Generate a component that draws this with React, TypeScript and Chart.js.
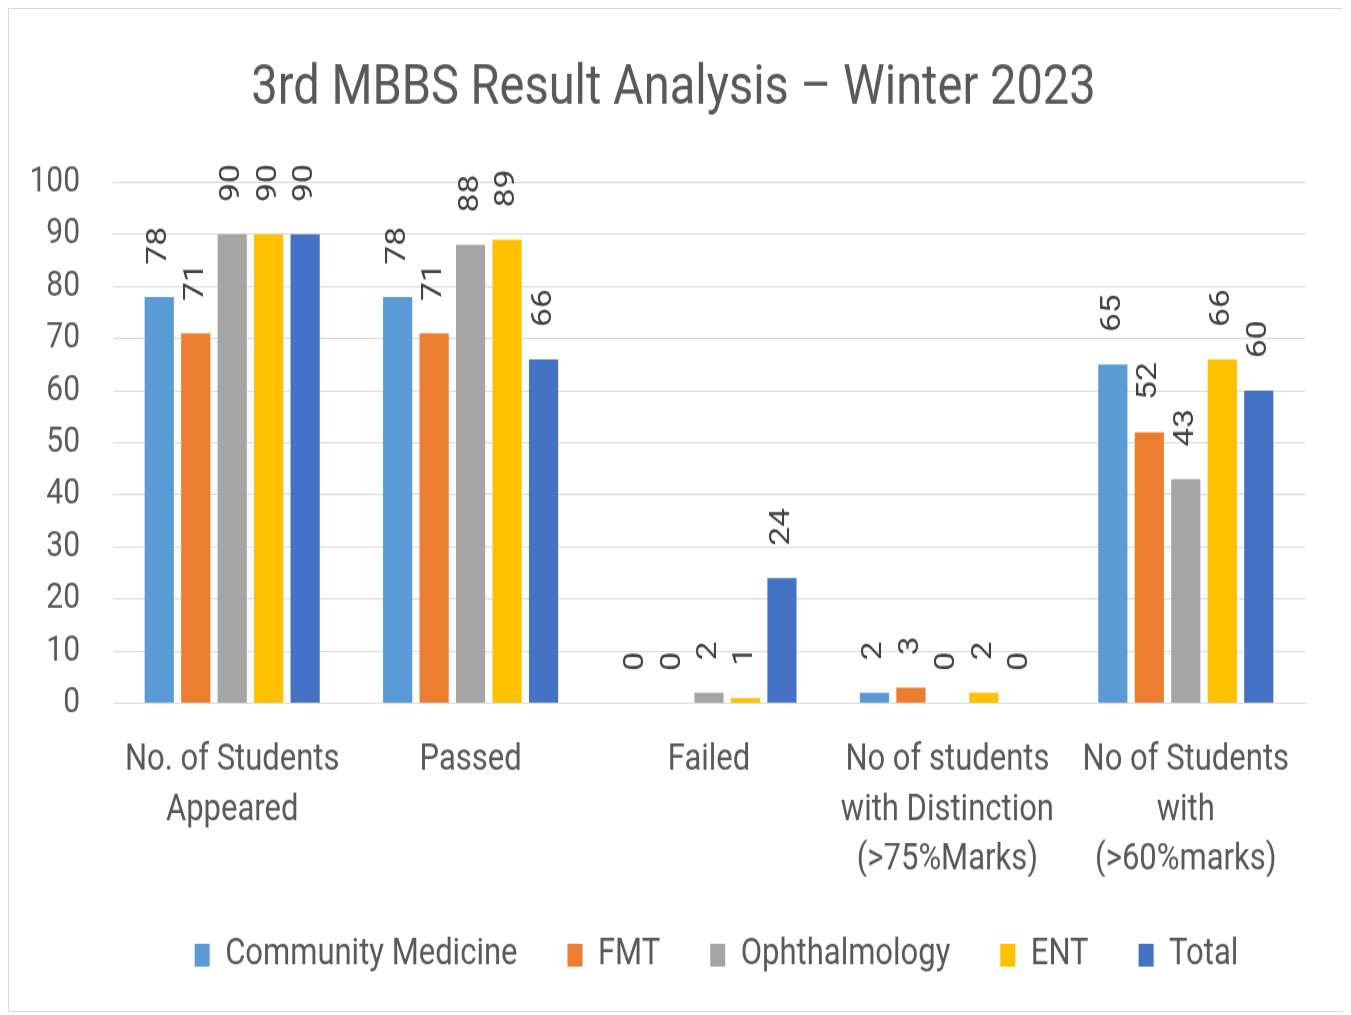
import React, { useEffect, useRef } from "react";
import { Chart, registerables } from "chart.js";

Chart.register(...registerables);

const TITLE = "3rd MBBS Result Analysis \u2013 Winter 2023";
const categories: string[][] = [
  ["No. of Students", "Appeared"],
  ["Passed"],
  ["Failed"],
  ["No of students", "with Distinction", "(>75%Marks)"],
  ["No of Students", "with", "(>60%marks)"],
];
const seriesNames = ["Community Medicine", "FMT", "Ophthalmology", "ENT", "Total"];
const communityMedicine = [78, 78, 0, 2, 65];
const fmt = [71, 71, 0, 3, 52];
const ophthalmology = [90, 88, 2, 0, 43];
const ent = [90, 89, 1, 2, 66];
const total = [90, 66, 24, 0, 60];
const seriesValues = [communityMedicine, fmt, ophthalmology, ent, total];
const seriesColors = ["#5b9bd5", "#ed7d31", "#a5a5a5", "#ffc000", "#4472c4"];

const FONT = "Roboto, 'Liberation Sans', sans-serif";
const STRETCH = 1.2;
const CANVAS_W = 1335;
const CANVAS_H = Math.round(1002 / STRETCH);
const LEGEND_SHIFT = 59.5;
const TITLE_SHIFT = 16.5;

const dataLabels = {
  id: "rotatedDataLabels",
  afterDatasetsDraw(chart: any) {
    const ctx = chart.ctx;
    chart.data.datasets.forEach((ds: any, i: number) => {
      const meta = chart.getDatasetMeta(i);
      meta.data.forEach((el: any, j: number) => {
        ctx.save();
        ctx.translate(el.x, el.y - 27);
        ctx.rotate(-Math.PI / 2);
        ctx.font = `28px ${FONT}`;
        ctx.fillStyle = "#404040";
        ctx.textAlign = "left";
        ctx.textBaseline = "middle";
        ctx.fillText(String(ds.data[j]), 0, 0);
        ctx.restore();
      });
    });
  },
};

const boxShift = {
  id: "boxShift",
  afterLayout(chart: any) {
    const l = chart.legend;
    if (l) {
      l.left += LEGEND_SHIFT;
      l.right += LEGEND_SHIFT;
    }
    const t = chart.titleBlock;
    if (t) {
      t.left += TITLE_SHIFT;
      t.right += TITLE_SHIFT;
    }
  },
};

export default function App() {
  const ref = useRef<HTMLCanvasElement | null>(null);
  useEffect(() => {
    if (!ref.current) return;
    const chart = new Chart(ref.current, {
      type: "bar",
      data: {
        labels: categories,
        datasets: seriesNames.map((name, i) => ({
          label: name,
          data: seriesValues[i],
          backgroundColor: seriesColors[i],
          borderWidth: 0,
          categoryPercentage: 0.765,
          barPercentage: 0.8,
        })),
      },
      options: {
        responsive: false,
        animation: false,
        devicePixelRatio: 1,
        layout: { padding: { left: 0, right: 39, top: 0, bottom: 21 } },
        plugins: {
          title: {
            display: true,
            text: TITLE,
            color: "#595959",
            font: { family: FONT, size: 47, weight: "normal", lineHeight: 1.2 },
            padding: { top: 39, bottom: 49 },
          },
          legend: {
            display: true,
            position: "bottom",
            labels: {
              color: "#595959",
              font: { family: FONT, size: 31 },
              boxWidth: 15,
              boxHeight: 19,
              padding: 50,
            },
          },
          tooltip: { enabled: false },
        },
        scales: {
          x: {
            grid: { display: false, drawTicks: false },
            border: { display: true, color: "#d9d9d9" },
            ticks: {
              color: "#595959",
              font: { family: FONT, size: 31, lineHeight: 1.345 },
              padding: 27,
              maxRotation: 0,
              autoSkip: false,
            },
            afterFit: (scale: any) => {
              scale.height = 144.5;
            },
          },
          y: {
            min: 0,
            max: 100,
            grid: { color: "#d9d9d9", drawTicks: false },
            border: { display: false },
            ticks: {
              stepSize: 10,
              autoSkip: false,
              color: "#595959",
              font: { family: FONT, size: 30 },
              padding: 33,
            },
            afterFit: (scale: any) => {
              scale.width = 104;
            },
          },
        },
      },
      plugins: [dataLabels, boxShift],
    });
    return () => chart.destroy();
  }, []);

  return (
    <div
      style={{
        width: 1337,
        height: 1004,
        boxSizing: "border-box",
        border: "1px solid #d9d9d9",
        background: "#ffffff",
        overflow: "hidden",
      }}
    >
      <canvas
        ref={ref}
        width={CANVAS_W}
        height={CANVAS_H}
        style={{
          display: "block",
          width: CANVAS_W,
          height: CANVAS_H,
          transform: `scaleY(${STRETCH})`,
          transformOrigin: "0 0",
        }}
      />
    </div>
  );
}
